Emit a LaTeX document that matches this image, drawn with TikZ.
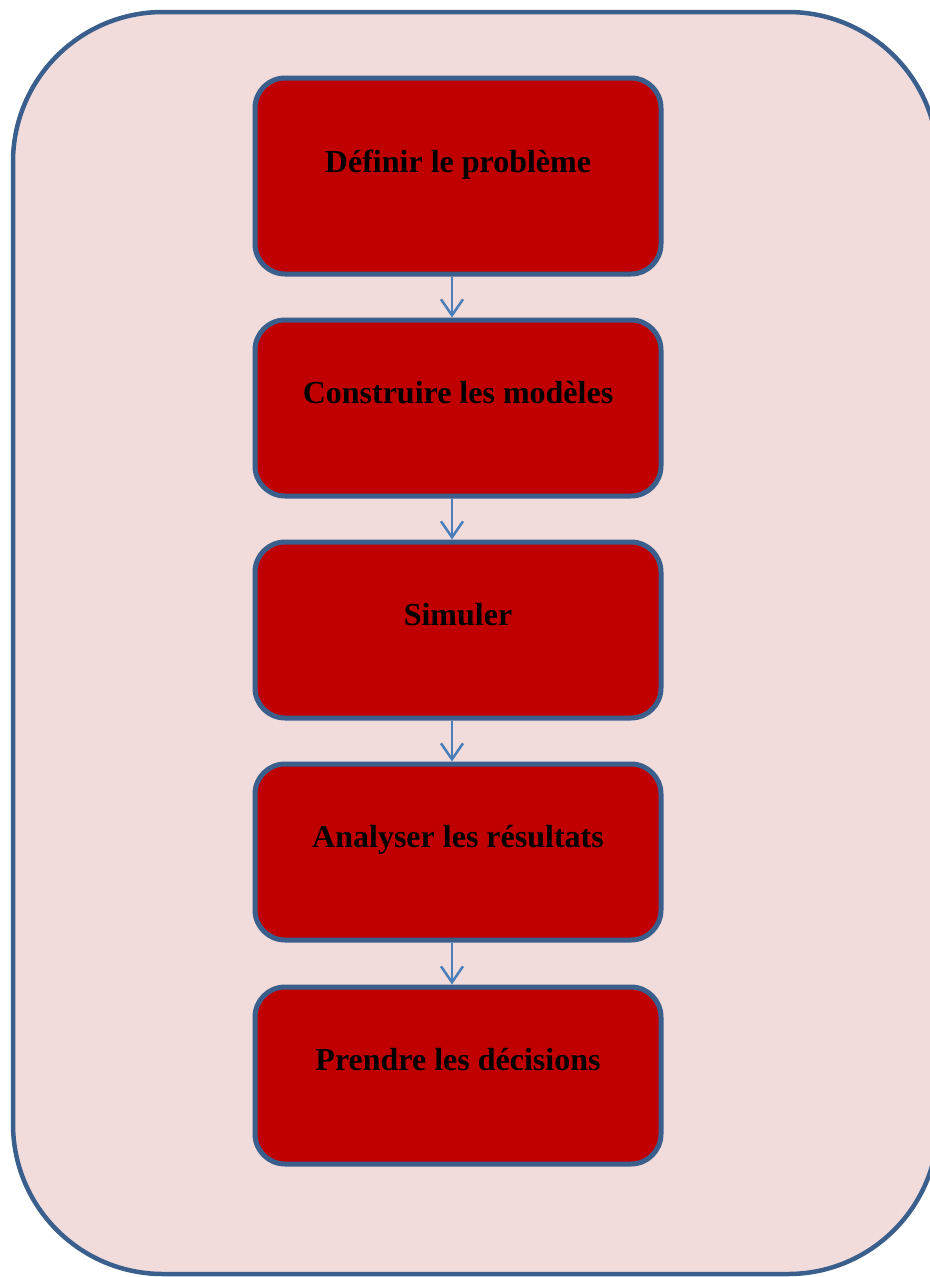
\documentclass[tikz,border=0pt]{standalone}
\usepackage{fontspec}
\setmainfont{Liberation Serif}
\usetikzlibrary{arrows.meta}
\definecolor{bgpink}{HTML}{F2DCDB}
\definecolor{frameblue}{HTML}{3A5F8D}
\definecolor{boxred}{HTML}{C00000}
\definecolor{arrowblue}{HTML}{4A7EBB}
\tikzset{
  stepbox/.style={draw=frameblue, line width=5pt, fill=boxred, rounded corners=30pt,
    minimum width=406pt, inner sep=0pt},
  steptext/.style={anchor=base, font=\fontsize{32}{38}\selectfont\bfseries, text=black},
  flowarrow/.style={draw=arrowblue, line width=2.5pt,
    -{Straight Barb[length=16pt, width=22pt, line width=2.5pt]}},
}
\begin{document}
\begin{tikzpicture}[x=1pt, y=-1pt]
\useasboundingbox (0,0) rectangle (929,1277);
\draw[frameblue, fill=bgpink, line width=4.5pt, rounded corners=150pt] (13,12) rectangle (938,1274);
\node[stepbox, minimum height=196pt] (b1) at (458,176) {};
\node[stepbox, minimum height=176pt] (b2) at (458,408) {};
\node[stepbox, minimum height=176pt] (b3) at (458,630) {};
\node[stepbox, minimum height=176pt] (b4) at (458,852) {};
\node[stepbox, minimum height=177pt] (b5) at (458,1075.5) {};
\node[steptext] (t1) at ([yshift=4pt]b1.center) {Définir le problème};
\node[steptext] (t2) at ([yshift=5pt]b2.center) {Construire les modèles};
\node[steptext] (t3) at ([yshift=5pt]b3.center) {Simuler};
\node[steptext] (t4) at ([yshift=5pt]b4.center) {Analyser les résultats};
\node[steptext] (t5) at ([yshift=5pt]b5.center) {Prendre les décisions};
\draw[flowarrow] ([xshift=-6pt]b1.south) -- ([xshift=-6pt]b2.north);
\draw[flowarrow] ([xshift=-6pt]b2.south) -- ([xshift=-6pt]b3.north);
\draw[flowarrow] ([xshift=-6pt]b3.south) -- ([xshift=-6pt]b4.north);
\draw[flowarrow] ([xshift=-6pt]b4.south) -- ([xshift=-6pt]b5.north);
\end{tikzpicture}
\end{document}
